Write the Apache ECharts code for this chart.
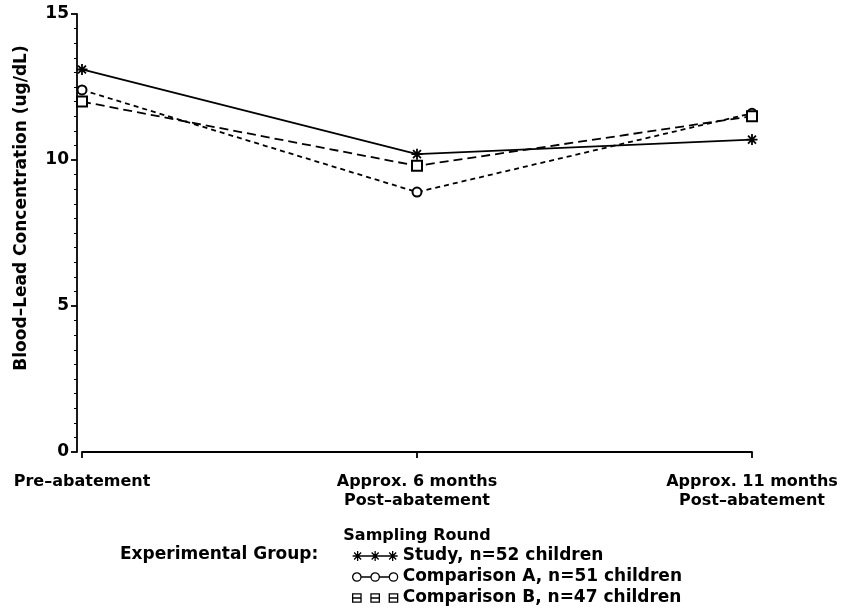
<!DOCTYPE html>
<html>
<head>
<meta charset="utf-8">
<script src="https://cdn.jsdelivr.net/npm/echarts@6/dist/echarts.min.js"></script>
<style>html,body{margin:0;padding:0;background:#fff}#c{width:842px;height:611px}</style>
</head>
<body>
<div id="c"></div>
<script>
const categories = ['Pre\u2013abatement', 'Approx. 6 months\nPost\u2013abatement', 'Approx. 11 months\nPost\u2013abatement'];
const studyValues = [13.1, 10.2, 10.7];
const compAValues = [12.4, 8.9, 11.6];
const compBValues = [12.0, 9.8, 11.5];
const seriesNames = ['Study, n=52 children', 'Comparison A, n=51 children', 'Comparison B, n=47 children'];
const yTicks = [0, 5, 10, 15];

const FONT = '"DejaVu Sans", "Liberation Sans", Arial, sans-serif';
const star = 'path://M0,-5L0,5M-5,0L5,0M-3.6,-3.6L3.6,3.6M-3.6,3.6L3.6,-3.6';

const starLegend = 'path://M5,0L5,10M0,5L10,5M1.5,1.5L8.5,8.5M1.5,8.5L8.5,1.5M10,5L17.5,5M22.5,0L22.5,10M17.5,5L27.5,5M19,1.5L26,8.5M19,8.5L26,1.5M27.5,5L35,5M40,0L40,10M35,5L45,5M36.5,1.5L43.5,8.5M36.5,8.5L43.5,1.5';
const circLegend = 'path://M1,5A4,4 0 1,1 9,5A4,4 0 1,1 1,5ZM9,5L18.5,5M18.5,5A4,4 0 1,1 26.5,5A4,4 0 1,1 18.5,5ZM26.5,5L36,5M36,5A4,4 0 1,1 44,5A4,4 0 1,1 36,5Z';
const rectLegend = 'path://M1,1L9,1L9,9L1,9ZM1,5L9,5M18.5,1L26.5,1L26.5,9L18.5,9ZM18.5,5L26.5,5M36,1L44,1L44,9L36,9ZM36,5L44,5';

const legendItemStyle = {color: 'rgba(0,0,0,0)', borderColor: '#000', borderWidth: 1.3};

const chart = echarts.init(document.getElementById('c'), null, {renderer: 'canvas'});
chart.setOption({
  animation: false,
  backgroundColor: '#fff',
  grid: {left: 82, right: 90, top: 14, bottom: 159, containLabel: false},
  xAxis: {
    type: 'category', data: categories, boundaryGap: false, offset: 6,
    name: 'Sampling Round', nameLocation: 'middle', nameGap: 70,
    nameTextStyle: {fontFamily: FONT, fontWeight: 'bold', fontSize: 16, color: '#000'},
    axisLine: {lineStyle: {color: '#000', width: 1.8}},
    axisTick: {show: true, length: 6, inside: false, lineStyle: {color: '#000', width: 1.8}},
    axisLabel: {fontFamily: FONT, fontWeight: 'bold', fontSize: 16, color: '#000', margin: 14, lineHeight: 19, interval: 0},
    splitLine: {show: false}
  },
  yAxis: {
    type: 'value', min: 0, max: 15, interval: 5, offset: 5,
    axisLine: {show: true, lineStyle: {color: '#000', width: 1.8}},
    axisTick: {show: true, length: 6, lineStyle: {color: '#000', width: 1.8}},
    minorTick: {show: true, splitNumber: 10, length: 3, lineStyle: {color: '#000', width: 1}},
    axisLabel: {fontFamily: FONT, fontWeight: 'bold', fontSize: 17, color: '#000', margin: 8,
      formatter: v => yTicks.includes(v) ? String(v) : ''},
    splitLine: {show: false}
  },
  legend: {
    orient: 'vertical', left: 352, top: 546, padding: 0, itemGap: 1, itemWidth: 45, itemHeight: 10,
    textStyle: {fontFamily: FONT, fontWeight: 'bold', fontSize: 17, color: '#000', lineHeight: 20},
    data: [
      {name: seriesNames[0], icon: starLegend, itemStyle: legendItemStyle},
      {name: seriesNames[1], icon: circLegend, itemStyle: legendItemStyle},
      {name: seriesNames[2], icon: rectLegend, itemStyle: legendItemStyle}
    ]
  },
  graphic: [{
    type: 'text', left: 120, top: 546,
    style: {text: 'Experimental Group:', font: 'bold 17px ' + FONT, fill: '#000'}
  }, {
    type: 'text', x: 22, y: 208, rotation: Math.PI / 2,
    style: {text: 'Blood\u2013Lead Concentration (ug/dL)', font: 'bold 17px ' + FONT, fill: '#000', align: 'center', verticalAlign: 'middle'}
  }],
  series: [
    {name: seriesNames[0], type: 'line', data: studyValues, symbol: star, symbolSize: 11,
      lineStyle: {color: '#000', width: 1.8, type: 'solid'},
      itemStyle: {color: '#000', borderColor: '#000', borderWidth: 1.8}},
    {name: seriesNames[1], type: 'line', data: compAValues, symbol: 'emptyCircle', symbolSize: 9,
      lineStyle: {color: '#000', width: 1.8, type: [5, 4]},
      itemStyle: {color: '#000', borderColor: '#000', borderWidth: 1.6}},
    {name: seriesNames[2], type: 'line', data: compBValues, symbol: 'emptyRect', symbolSize: 10,
      lineStyle: {color: '#000', width: 1.8, type: [9, 5]},
      itemStyle: {color: '#000', borderColor: '#000', borderWidth: 1.6}}
  ]
});
</script>
</body>
</html>
